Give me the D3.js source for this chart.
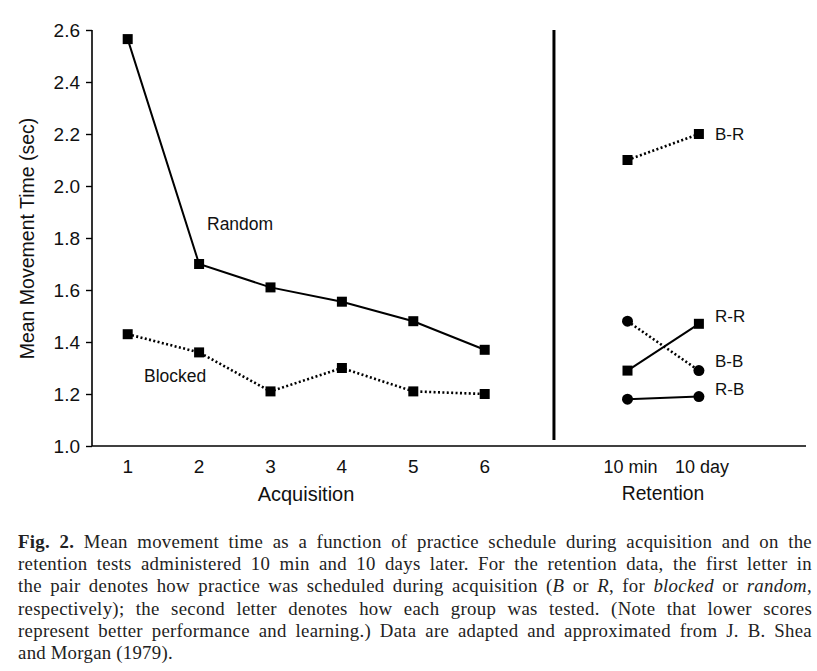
<!DOCTYPE html>
<html><head><meta charset="utf-8">
<script src="https://cdn.jsdelivr.net/npm/d3@7"></script>
<style>
body{margin:0;background:#fff;}
.sans{font-family:"Liberation Sans",Arial,Helvetica,sans-serif;}
.serif{font-family:"Liberation Serif","Times New Roman",serif;}
</style></head>
<body>
<svg id="chart" width="817" height="671"></svg>
<script>
// ---- data ----
const acqSessions = [1, 2, 3, 4, 5, 6];
const randomValues = [2.565, 1.70, 1.61, 1.555, 1.48, 1.37];
const blockedValues = [1.43, 1.36, 1.21, 1.30, 1.21, 1.20];
const retentionLabels = ["10 min", "10 day"];
const retentionPos = [8, 9];
const retGroups = ["B-R", "R-R", "B-B", "R-B"];
const retValues = [[2.10, 2.20], [1.29, 1.47], [1.48, 1.29], [1.18, 1.19]];
const retMarker = ["square", "square", "circle", "circle"];
const retDotted = [true, false, true, false];
const yTicks = [1.0, 1.2, 1.4, 1.6, 1.8, 2.0, 2.2, 2.4, 2.6];
const captionLines = [
  [["Fig. 2.", "b"], [" Mean movement time as a function of practice schedule during acquisition and on the", ""]],
  [["retention tests administered 10 min and 10 days later. For the retention data, the first letter in", ""]],
  [["the pair denotes how practice was scheduled during acquisition (", ""], ["B", "i"], [" or ", ""], ["R", "i"], [", for ", ""], ["blocked", "i"], [" or ", ""], ["random", "i"], [",", ""]],
  [["respectively); the second letter denotes how each group was tested. (Note that lower scores", ""]],
  [["represent better performance and learning.) Data are adapted and approximated from J. B. Shea", ""]],
  [["and Morgan (1979).", ""]]
];

const svg = d3.select("#chart");
const x = d3.scaleLinear().domain([0.5, 10.5]).range([92, 806]);
const y = d3.scaleLinear().domain([1.0, 2.6]).range([446, 30]);
const ink = "#111";

// axes
const yAxis = svg.append("g").attr("transform", "translate(92,0)")
  .call(d3.axisLeft(y).tickValues(yTicks).tickFormat(d3.format(".1f")).tickSize(6).tickPadding(6));
yAxis.select(".domain").attr("stroke", "#000").attr("stroke-width", 1.6).attr("d", "M0,30V446");
yAxis.selectAll(".tick line").attr("stroke-width", 1.4);
yAxis.selectAll("text").attr("class", "sans").attr("font-size", 19).attr("fill", ink);

svg.append("line").attr("x1", 92).attr("x2", 806).attr("y1", 446).attr("y2", 446)
  .attr("stroke", "#000").attr("stroke-width", 1.6);

const xg = svg.append("g");
xg.selectAll("text.acq").data(acqSessions).join("text")
  .attr("class", "sans").attr("x", d => x(d)).attr("y", 473)
  .attr("text-anchor", "middle").attr("font-size", 19).attr("fill", ink).text(d => d);
xg.selectAll("text.ret").data(retentionLabels).join("text")
  .attr("class", "sans").attr("x", (d, i) => x(retentionPos[i]) + 3).attr("y", 473)
  .attr("text-anchor", "middle").attr("font-size", 18).attr("fill", ink).text(d => d);
svg.append("text").attr("class", "sans").attr("x", 306).attr("y", 501).attr("text-anchor", "middle")
  .attr("font-size", 20).attr("fill", ink).text("Acquisition");
svg.append("text").attr("class", "sans").attr("x", 663).attr("y", 500).attr("text-anchor", "middle")
  .attr("font-size", 19.3).attr("fill", ink).text("Retention");
svg.append("text").attr("class", "sans").attr("transform", "translate(34,238.5) rotate(-90)")
  .attr("text-anchor", "middle").attr("font-size", 19.5).attr("fill", ink).text("Mean Movement Time (sec)");

// separator
svg.append("line").attr("x1", x(6.97)).attr("x2", x(6.97)).attr("y1", y(2.6)).attr("y2", 440)
  .attr("stroke", "#000").attr("stroke-width", 3);

const line = d3.line().x(d => x(d[0])).y(d => y(d[1]));
const sq = 10;
function drawSeries(pts, dotted, marker) {
  svg.append("path").datum(pts).attr("d", line).attr("fill", "none").attr("stroke", "#000")
    .attr("stroke-width", dotted ? 2.6 : 2).attr("stroke-dasharray", dotted ? "2,2.4" : null);
  if (marker === "square") {
    svg.append("g").selectAll("rect").data(pts).join("rect")
      .attr("x", d => x(d[0]) - sq / 2).attr("y", d => y(d[1]) - sq / 2)
      .attr("width", sq).attr("height", sq).attr("fill", "#000");
  } else {
    svg.append("g").selectAll("circle").data(pts).join("circle")
      .attr("cx", d => x(d[0])).attr("cy", d => y(d[1])).attr("r", 5.5).attr("fill", "#000");
  }
}
drawSeries(acqSessions.map((s, i) => [s, randomValues[i]]), false, "square");
drawSeries(acqSessions.map((s, i) => [s, blockedValues[i]]), true, "square");
retGroups.forEach((g, k) => {
  drawSeries(retentionPos.map((p, i) => [p, retValues[k][i]]), retDotted[k], retMarker[k]);
});

// series labels
svg.append("text").attr("class", "sans").attr("x", 207).attr("y", 230).attr("font-size", 17.5).attr("fill", ink).text("Random");
svg.append("text").attr("class", "sans").attr("x", 144).attr("y", 381.5).attr("font-size", 17.5).attr("fill", ink).text("Blocked");
const labelY = [140, 321.5, 367, 395];
retGroups.forEach((g, k) => {
  svg.append("text").attr("class", "sans").attr("x", 715).attr("y", labelY[k])
    .attr("font-size", 17).attr("fill", ink).text(g);
});

// caption (justified)
const capLeft = 18, capRight = 812, capTop = 548, capLH = 22.2;
captionLines.forEach((segs, li) => {
  const yy = capTop + li * capLH;
  const words = [];
  let cur = [];
  segs.forEach(([txt, st]) => {
    const parts = txt.split(/( )/);
    parts.forEach(p => {
      if (p === " ") { if (cur.length) { words.push(cur); cur = []; } }
      else if (p.length) cur.push([p, st]);
    });
  });
  if (cur.length) words.push(cur);
  const g = svg.append("g");
  const wEls = words.map(w => {
    const t = g.append("text").attr("class", "serif").attr("font-size", 18.8)
      .attr("letter-spacing", 0.3).attr("fill", "#222").attr("y", yy);
    w.forEach(([p, st]) => {
      t.append("tspan").text(p)
        .attr("font-weight", st === "b" ? "bold" : null)
        .attr("font-style", st === "i" ? "italic" : null);
    });
    return t;
  });
  const widths = wEls.map(t => t.node().getComputedTextLength());
  const total = d3.sum(widths);
  const last = li === captionLines.length - 1;
  const gap = last ? 4.6 : (capRight - capLeft - total) / (words.length - 1);
  let xx = capLeft;
  wEls.forEach((t, i) => { t.attr("x", xx); xx += widths[i] + gap; });
});
</script>
</body></html>
